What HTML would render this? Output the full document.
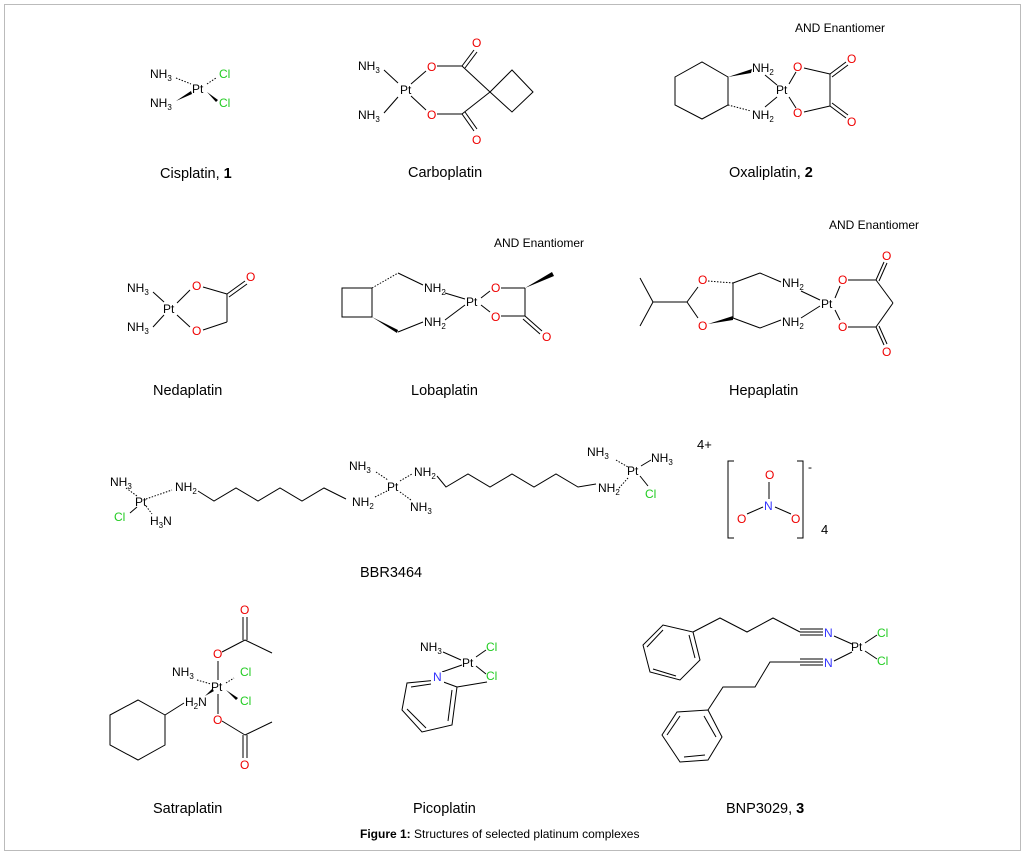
<!DOCTYPE html>
<html><head><meta charset="utf-8"><style>
html,body{margin:0;padding:0;background:#fff}
svg{display:block}
text{font-family:"Liberation Sans",Arial,sans-serif}
.a{font-size:12px;fill:#000}
.o{font-size:12px;fill:#e00}
.c{font-size:12px;fill:#2c2}
.n{font-size:12px;fill:#33f}
.l{font-size:14.5px;fill:#000}
.s{font-size:8px}
line,polyline,polygon.r{stroke:#000;stroke-width:1;fill:none}
.h{stroke-dasharray:1.5 1.5}
</style></head><body>
<svg width="1025" height="855" viewBox="0 0 1025 855" xmlns="http://www.w3.org/2000/svg">
<rect x="4.5" y="4.5" width="1016" height="846" fill="none" stroke="#bbb"/>

<!-- Cisplatin -->
<text class="a" x="150" y="78">NH<tspan class="s" dy="3">3</tspan></text>
<text class="a" x="150" y="107">NH<tspan class="s" dy="3">3</tspan></text>
<text class="a" x="192" y="93">Pt</text>
<text class="c" x="219" y="78">Cl</text>
<text class="c" x="219" y="107">Cl</text>
<line class="h" x1="176" y1="78" x2="191" y2="84"/>
<polygon points="176,101 191,91 192,94" fill="#000"/>
<line class="h" x1="207" y1="84" x2="216" y2="78"/>
<polygon points="207,92 218,100 216,102" fill="#000"/>
<text class="l" x="160" y="178">Cisplatin, <tspan font-weight="bold">1</tspan></text>

<!-- Carboplatin -->
<text class="a" x="358" y="70">NH<tspan class="s" dy="3">3</tspan></text>
<text class="a" x="358" y="119">NH<tspan class="s" dy="3">3</tspan></text>
<text class="a" x="400" y="94">Pt</text>
<text class="o" x="427" y="71">O</text>
<text class="o" x="427" y="119">O</text>
<text class="o" x="472" y="47">O</text>
<text class="o" x="472" y="144">O</text>
<line x1="384" y1="70" x2="398" y2="83"/><line x1="384" y1="113" x2="398" y2="97"/>
<line x1="411" y1="84" x2="426" y2="71"/><line x1="411" y1="96" x2="426" y2="110"/>
<line x1="437" y1="66" x2="462" y2="66"/><line x1="437" y1="114" x2="462" y2="114"/>
<line x1="462" y1="66" x2="474" y2="50"/><line x1="465" y1="68" x2="477" y2="52"/>
<line x1="462" y1="114" x2="474" y2="131"/><line x1="465" y1="112" x2="477" y2="129"/>
<line x1="462" y1="66" x2="490" y2="92"/><line x1="462" y1="114" x2="490" y2="92"/>
<polygon class="r" points="490,92 512,70 533,92 512,112"/>
<text class="l" x="408" y="177">Carboplatin</text>

<!-- Oxaliplatin -->
<text class="a" x="795" y="32">AND Enantiomer</text>
<polygon class="r" points="675,77 702,62 728,77 728,105 702,119 675,105"/>
<polygon points="728,77 752,69 751,73" fill="#000"/>
<line class="h" x1="728" y1="105" x2="751" y2="111"/>
<text class="a" x="752" y="72">NH<tspan class="s" dy="3">2</tspan></text>
<text class="a" x="752" y="119">NH<tspan class="s" dy="3">2</tspan></text>
<text class="a" x="776" y="94">Pt</text>
<line x1="765" y1="75" x2="777" y2="85"/><line x1="765" y1="107" x2="777" y2="97"/>
<text class="o" x="793" y="71">O</text><text class="o" x="793" y="117">O</text>
<line x1="789" y1="84" x2="796" y2="72"/><line x1="789" y1="97" x2="796" y2="108"/>
<line x1="804" y1="68" x2="830" y2="74"/><line x1="804" y1="112" x2="830" y2="106"/>
<line x1="830" y1="74" x2="830" y2="106"/>
<line x1="830" y1="74" x2="846" y2="62"/><line x1="832" y1="77" x2="848" y2="65"/>
<line x1="830" y1="106" x2="846" y2="118"/><line x1="832" y1="103" x2="848" y2="115"/>
<text class="o" x="847" y="63">O</text><text class="o" x="847" y="126">O</text>
<text class="l" x="729" y="177">Oxaliplatin, <tspan font-weight="bold">2</tspan></text>

<!-- Nedaplatin -->
<text class="a" x="127" y="292">NH<tspan class="s" dy="3">3</tspan></text>
<text class="a" x="127" y="331">NH<tspan class="s" dy="3">3</tspan></text>
<text class="a" x="163" y="313">Pt</text>
<line x1="153" y1="292" x2="164" y2="302"/><line x1="153" y1="327" x2="164" y2="315"/>
<text class="o" x="192" y="290">O</text><text class="o" x="192" y="335">O</text>
<line x1="177" y1="303" x2="190" y2="290"/><line x1="177" y1="315" x2="190" y2="327"/>
<line x1="203" y1="287" x2="227" y2="294"/><line x1="203" y1="330" x2="227" y2="322"/>
<line x1="227" y1="294" x2="227" y2="322"/>
<line x1="227" y1="294" x2="245" y2="281"/><line x1="229" y1="297" x2="247" y2="284"/>
<text class="o" x="246" y="281">O</text>
<text class="l" x="153" y="395">Nedaplatin</text>

<!-- Lobaplatin -->
<text class="a" x="494" y="247">AND Enantiomer</text>
<rect x="342" y="288" width="30" height="29" fill="none" stroke="#000"/>
<line class="h" x1="372" y1="288" x2="398" y2="273"/>
<polygon points="372,317 398,330 397,333" fill="#000"/>
<line x1="398" y1="273" x2="423" y2="285"/><line x1="398" y1="332" x2="423" y2="322"/>
<text class="a" x="424" y="292">NH<tspan class="s" dy="3">2</tspan></text>
<text class="a" x="424" y="326">NH<tspan class="s" dy="3">2</tspan></text>
<line x1="445" y1="293" x2="465" y2="299"/><line x1="445" y1="320" x2="465" y2="305"/>
<text class="a" x="466" y="306">Pt</text>
<text class="o" x="491" y="292">O</text><text class="o" x="491" y="321">O</text>
<line x1="481" y1="298" x2="490" y2="291"/><line x1="481" y1="305" x2="490" y2="312"/>
<line x1="501" y1="288" x2="525" y2="288"/><line x1="501" y1="316" x2="525" y2="316"/>
<line x1="525" y1="288" x2="525" y2="316"/>
<polygon points="525,288 552,272 554,276" fill="#000"/>
<line x1="525" y1="316" x2="542" y2="331"/><line x1="523" y1="319" x2="540" y2="334"/>
<text class="o" x="542" y="341">O</text>
<text class="l" x="411" y="395">Lobaplatin</text>

<!-- Hepaplatin -->
<text class="a" x="829" y="229">AND Enantiomer</text>
<line x1="640" y1="278" x2="653" y2="302"/><line x1="640" y1="326" x2="653" y2="302"/>
<line x1="653" y1="302" x2="687" y2="302"/>
<line x1="687" y1="302" x2="698" y2="287"/><line x1="687" y1="302" x2="698" y2="318"/>
<text class="o" x="698" y="284">O</text><text class="o" x="698" y="330">O</text>
<line class="h" x1="708" y1="281" x2="733" y2="283"/>
<polygon points="708,324 733,316 733,320" fill="#000"/>
<line x1="733" y1="283" x2="733" y2="318"/>
<line x1="733" y1="283" x2="760" y2="273"/><line x1="733" y1="318" x2="760" y2="328"/>
<line x1="760" y1="273" x2="781" y2="282"/><line x1="760" y1="328" x2="781" y2="320"/>
<text class="a" x="782" y="287">NH<tspan class="s" dy="3">2</tspan></text>
<text class="a" x="782" y="326">NH<tspan class="s" dy="3">2</tspan></text>
<line x1="801" y1="291" x2="820" y2="300"/><line x1="801" y1="318" x2="820" y2="306"/>
<text class="a" x="821" y="308">Pt</text>
<text class="o" x="838" y="284">O</text><text class="o" x="838" y="331">O</text>
<line x1="835" y1="298" x2="840" y2="286"/><line x1="835" y1="310" x2="840" y2="320"/>
<line x1="848" y1="280" x2="876" y2="280"/><line x1="848" y1="327" x2="876" y2="327"/>
<line x1="876" y1="280" x2="893" y2="303"/><line x1="876" y1="327" x2="893" y2="303"/>
<line x1="876" y1="280" x2="884" y2="262"/><line x1="879" y1="281" x2="887" y2="263"/>
<line x1="876" y1="327" x2="884" y2="345"/><line x1="879" y1="326" x2="887" y2="344"/>
<text class="o" x="882" y="260">O</text><text class="o" x="882" y="356">O</text>
<text class="l" x="729" y="395">Hepaplatin</text>

<!-- BBR3464 -->
<text class="a" x="110" y="486">NH<tspan class="s" dy="3">3</tspan></text>
<text class="a" x="135" y="506">Pt</text>
<text class="c" x="114" y="521">Cl</text>
<text class="a" x="150" y="525">H<tspan class="s" dy="3">3</tspan><tspan dy="-3">N</tspan></text>
<text class="a" x="175" y="491">NH<tspan class="s" dy="3">2</tspan></text>
<line class="h" x1="126" y1="488" x2="137" y2="496"/>
<line x1="130" y1="513" x2="137" y2="507"/>
<line class="h" x1="146" y1="506" x2="152" y2="514"/>
<line class="h" x1="146" y1="499" x2="172" y2="490"/>
<polyline points="198,491 214,501 236,488 258,501 280,488 302,501 324,488 346,499" fill="none" stroke="#000"/>
<text class="a" x="352" y="506">NH<tspan class="s" dy="3">2</tspan></text>
<text class="a" x="349" y="470">NH<tspan class="s" dy="3">3</tspan></text>
<text class="a" x="387" y="491">Pt</text>
<text class="a" x="410" y="511">NH<tspan class="s" dy="3">3</tspan></text>
<text class="a" x="414" y="476">NH<tspan class="s" dy="3">2</tspan></text>
<line class="h" x1="376" y1="472" x2="388" y2="480"/>
<line class="h" x1="400" y1="481" x2="412" y2="474"/>
<line class="h" x1="375" y1="497" x2="387" y2="491"/>
<line class="h" x1="400" y1="492" x2="411" y2="500"/>
<polyline points="437,476 446,487 468,474 490,487 512,474 534,487 556,474 578,487 596,484" fill="none" stroke="#000"/>
<text class="a" x="598" y="492">NH<tspan class="s" dy="3">2</tspan></text>
<text class="a" x="587" y="456">NH<tspan class="s" dy="3">3</tspan></text>
<text class="a" x="627" y="475">Pt</text>
<text class="a" x="651" y="462">NH<tspan class="s" dy="3">3</tspan></text>
<text class="c" x="645" y="498">Cl</text>
<line class="h" x1="616" y1="460" x2="628" y2="467"/>
<line class="h" x1="619" y1="488" x2="628" y2="478"/>
<line x1="641" y1="466" x2="651" y2="460"/>
<line x1="640" y1="476" x2="648" y2="486"/>
<text class="a" x="697" y="449" style="font-size:13px">4+</text>
<polyline points="734,461 728,461 728,538 734,538" fill="none" stroke="#000"/>
<polyline points="797,461 803,461 803,538 797,538" fill="none" stroke="#000"/>
<text class="a" x="808" y="471">-</text>
<text class="a" x="821" y="534" style="font-size:13px">4</text>
<text class="o" x="765" y="479">O</text>
<text class="n" x="764" y="510">N</text>
<text class="o" x="737" y="523">O</text>
<text class="o" x="791" y="523">O</text>
<line x1="769" y1="482" x2="769" y2="499"/>
<line x1="763" y1="507" x2="747" y2="514"/>
<line x1="775" y1="507" x2="791" y2="514"/>
<text class="l" x="360" y="577">BBR3464</text>

<!-- Satraplatin -->
<text class="o" x="240" y="614">O</text>
<line x1="243" y1="617" x2="243" y2="640"/><line x1="247" y1="617" x2="247" y2="640"/>
<line x1="245" y1="640" x2="272" y2="653"/>
<line x1="245" y1="640" x2="222" y2="652"/>
<text class="o" x="213" y="658">O</text>
<line x1="218" y1="661" x2="218" y2="680"/>
<text class="a" x="172" y="676">NH<tspan class="s" dy="3">3</tspan></text>
<text class="a" x="211" y="691">Pt</text>
<text class="c" x="240" y="676">Cl</text>
<text class="c" x="240" y="705">Cl</text>
<text class="a" x="185" y="706">H<tspan class="s" dy="3">2</tspan><tspan dy="-3">N</tspan></text>
<line class="h" x1="197" y1="680" x2="211" y2="684"/>
<polygon points="205,696 212,689 214,691" fill="#000"/>
<line class="h" x1="226" y1="683" x2="234" y2="678"/>
<polygon points="226,690 238,698 236,700" fill="#000"/>
<line x1="218" y1="694" x2="218" y2="714"/>
<text class="o" x="213" y="724">O</text>
<line x1="222" y1="721" x2="245" y2="735"/>
<line x1="245" y1="735" x2="272" y2="722"/>
<line x1="243" y1="735" x2="243" y2="758"/><line x1="247" y1="735" x2="247" y2="758"/>
<text class="o" x="240" y="769">O</text>
<polygon class="r" points="110,715 138,700 165,715 165,745 138,760 110,745"/>
<line x1="165" y1="715" x2="184" y2="703"/>
<text class="l" x="153" y="813">Satraplatin</text>

<!-- Picoplatin -->
<text class="a" x="420" y="651">NH<tspan class="s" dy="3">3</tspan></text>
<text class="a" x="462" y="667">Pt</text>
<text class="c" x="486" y="651">Cl</text>
<text class="c" x="486" y="680">Cl</text>
<line x1="443" y1="652" x2="461" y2="660"/>
<line x1="476" y1="657" x2="486" y2="650"/>
<line x1="476" y1="666" x2="486" y2="674"/>
<line x1="442" y1="672" x2="462" y2="665"/>
<polygon class="r" points="438,680 457,687 452,725 422,732 402,710 407,683"/>
<line x1="452" y1="690" x2="448" y2="721"/>
<line x1="426" y1="728" x2="407" y2="709"/>
<line x1="411" y1="687" x2="431" y2="684"/>
<line x1="457" y1="687" x2="487" y2="682"/>
<rect x="431" y="672" width="13" height="12" fill="#fff"/>
<text class="n" x="433" y="681">N</text>
<text class="l" x="413" y="813">Picoplatin</text>

<!-- BNP3029 -->
<polygon class="r" points="693,632 700,660 680,680 650,672 643,645 663,625"/>
<line x1="689" y1="635" x2="695" y2="658"/>
<line x1="676" y1="676" x2="653" y2="669"/>
<line x1="647" y1="647" x2="663" y2="630"/>
<polyline points="693,632 720,618 747,632 773,618 800,632" fill="none" stroke="#000"/>
<line x1="800" y1="632" x2="823" y2="632"/>
<line x1="800" y1="629" x2="823" y2="629"/>
<line x1="800" y1="635" x2="823" y2="635"/>
<text class="n" x="824" y="637">N</text>
<line x1="834" y1="636" x2="852" y2="644"/>
<text class="a" x="851" y="651">Pt</text>
<text class="c" x="877" y="637">Cl</text>
<text class="c" x="877" y="665">Cl</text>
<line x1="865" y1="643" x2="877" y2="635"/>
<line x1="865" y1="651" x2="877" y2="659"/>
<polyline points="708,710 723,687 755,687 770,662 800,662" fill="none" stroke="#000"/>
<line x1="800" y1="659" x2="823" y2="659"/>
<line x1="800" y1="662" x2="823" y2="662"/>
<line x1="800" y1="665" x2="823" y2="665"/>
<text class="n" x="824" y="667">N</text>
<line x1="834" y1="661" x2="852" y2="652"/>
<polygon class="r" points="708,710 722,737 708,760 680,762 662,735 677,712"/>
<line x1="704" y1="716" x2="716" y2="737"/>
<line x1="684" y1="757" x2="705" y2="755"/>
<line x1="667" y1="735" x2="680" y2="716"/>
<text class="l" x="726" y="813">BNP3029, <tspan font-weight="bold">3</tspan></text>

<!-- Caption -->
<text x="360" y="838" style="font-size:12px"><tspan font-weight="bold">Figure 1:</tspan> Structures of selected platinum complexes</text>
</svg>
</body></html>
